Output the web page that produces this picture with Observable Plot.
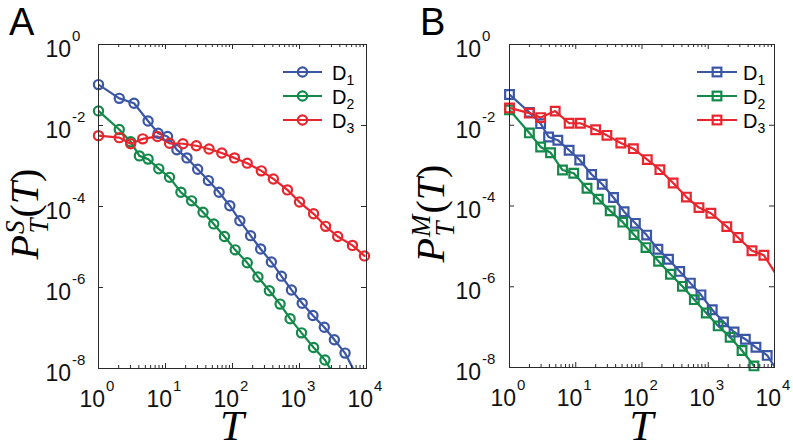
<!DOCTYPE html>
<html><head><meta charset="utf-8">
<script src="https://cdn.jsdelivr.net/npm/d3@7"></script>
<script src="https://cdn.jsdelivr.net/npm/@observablehq/plot@0.6"></script>
<style>
body{margin:0;background:#fff;}
#wrap{position:relative;width:793px;height:442px;overflow:hidden;background:#fff;}
#wrap svg{position:absolute;top:0;overflow:visible;}
</style></head><body><div id="wrap"></div>
<script>
// ---- categories / styling names ----
const seriesNames = ["D1", "D2", "D3"];
const seriesColors = ["#3a56a5", "#13894a", "#e8262d"];
// ---- tick labels (exponents of 10) ----
const xTickExps = [0, 1, 2, 3, 4];
const yTickExps = [0, -2, -4, -6, -8];

// ---- Panel A (P_T^S), values read as log10 ----
const A_D1_logT = [0, 0.31, 0.53, 0.74, 0.89, 1.03, 1.17, 1.32, 1.48, 1.64, 1.80, 1.96, 2.11, 2.27, 2.42, 2.58, 2.73, 2.88, 3.04, 3.20, 3.37, 3.52, 3.68, 3.86];
const A_D1_logP = [-0.99, -1.33, -1.45, -1.89, -2.19, -2.27, -2.60, -2.80, -3.08, -3.36, -3.65, -3.98, -4.35, -4.72, -5.05, -5.37, -5.72, -6.06, -6.39, -6.69, -6.98, -7.29, -7.62, -8.20];
const A_D2_logT = [0, 0.31, 0.48, 0.61, 0.74, 0.90, 1.06, 1.23, 1.39, 1.56, 1.72, 1.88, 2.04, 2.22, 2.38, 2.55, 2.71, 2.86, 3.03, 3.21, 3.38, 3.55];
const A_D2_logP = [-1.64, -2.10, -2.40, -2.75, -2.83, -3.07, -3.28, -3.65, -3.86, -4.14, -4.43, -4.74, -5.07, -5.39, -5.74, -6.08, -6.41, -6.77, -7.12, -7.48, -7.79, -8.25];
const A_D3_logT = [0, 0.31, 0.48, 0.66, 0.88, 1.06, 1.26, 1.46, 1.65, 1.84, 2.03, 2.22, 2.43, 2.61, 2.82, 3.00, 3.21, 3.39, 3.57, 3.79, 3.97];
const A_D3_logP = [-2.25, -2.30, -2.45, -2.33, -2.27, -2.44, -2.45, -2.50, -2.58, -2.68, -2.80, -2.93, -3.12, -3.32, -3.59, -3.89, -4.18, -4.49, -4.74, -4.96, -5.22];

// ---- Panel B (P_T^M), values read as log10 ----
const B_D1_logT = [0, 0.30, 0.47, 0.59, 0.73, 0.90, 1.06, 1.24, 1.40, 1.57, 1.73, 1.90, 2.07, 2.24, 2.40, 2.57, 2.73, 2.89, 3.06, 3.23, 3.39, 3.56, 3.72, 3.89, 4.05];
const B_D1_logP = [-1.24, -1.68, -1.96, -2.29, -2.37, -2.62, -2.86, -3.22, -3.46, -3.79, -4.14, -4.43, -4.72, -5.07, -5.32, -5.62, -5.91, -6.20, -6.57, -6.87, -7.12, -7.30, -7.50, -7.70, -8.10];
const B_D2_logT = [0, 0.30, 0.47, 0.62, 0.80, 0.97, 1.17, 1.34, 1.52, 1.71, 1.88, 2.06, 2.25, 2.43, 2.61, 2.79, 2.97, 3.15, 3.33, 3.51, 3.69];
const B_D2_logP = [-1.62, -2.19, -2.54, -2.68, -3.11, -3.19, -3.56, -3.83, -4.12, -4.40, -4.71, -5.03, -5.37, -5.69, -5.99, -6.32, -6.65, -6.97, -7.25, -7.58, -7.96];
const B_D3_logT = [0, 0.30, 0.47, 0.69, 0.90, 1.07, 1.30, 1.47, 1.68, 1.87, 2.08, 2.27, 2.47, 2.67, 2.86, 3.04, 3.28, 3.45, 3.66, 3.84, 4.03];
const B_D3_logP = [-1.57, -1.70, -1.81, -1.65, -1.95, -1.95, -2.11, -2.25, -2.44, -2.58, -2.85, -3.10, -3.43, -3.78, -4.04, -4.18, -4.51, -4.78, -5.11, -5.22, -5.71];

function rowsOf(name, logT, logP) {
  return logT.map((t, i) => ({series: name, T: Math.pow(10, t), P: Math.pow(10, logP[i])}));
}
const panelAData = [
  ...rowsOf("D1", A_D1_logT, A_D1_logP),
  ...rowsOf("D2", A_D2_logT, A_D2_logP),
  ...rowsOf("D3", A_D3_logT, A_D3_logP)
];
const panelBData = [
  ...rowsOf("D1", B_D1_logT, B_D1_logP),
  ...rowsOf("D2", B_D2_logT, B_D2_logP),
  ...rowsOf("D3", B_D3_logT, B_D3_logP)
];

const SANS = "'Liberation Sans', Arial, Helvetica, sans-serif";
const SERIF = "'Liberation Serif', 'Times New Roman', serif";
const AXIS = "#2a2a2a";
const svgNS = "http://www.w3.org/2000/svg";

function el(tag, attrs, text) {
  const e = document.createElementNS(svgNS, tag);
  for (const k in attrs) e.setAttribute(k, attrs[k]);
  if (text != null) e.textContent = text;
  return e;
}
const expLabel = d => "10^" + Math.round(Math.log10(d));

function buildPanel(cfg) {
  const xMajor = xTickExps.map(e => Math.pow(10, e));
  const xMinor = [];
  for (let i = 0; i < xTickExps.length - 1; i++)
    for (let k = 2; k <= 9; k++) xMinor.push(k * Math.pow(10, xTickExps[i]));
  const yMajor = yTickExps.map(e => Math.pow(10, e));
  const fw = cfg.width - cfg.ml - cfg.mr;
  const fh = cfg.height - cfg.mt - cfg.mb;
  const visible = cfg.data.filter(d => d.P >= 0.95e-8 && d.T <= 1.0001e4);

  const plot = Plot.plot({
    width: cfg.width, height: cfg.height,
    marginLeft: cfg.ml, marginRight: cfg.mr, marginTop: cfg.mt, marginBottom: cfg.mb,
    style: {background: "transparent", fontFamily: SANS, overflow: "visible"},
    x: {type: "log", domain: [1, 1e4], axis: null},
    y: {type: "log", domain: [1e-8, 1], axis: null},
    color: {domain: seriesNames, range: seriesColors},
    marks: [
      Plot.line(cfg.data, {x: "T", y: "P", z: "series", stroke: "series", strokeWidth: 2.2, clip: true}),
      Plot.dot(visible, {x: "T", y: "P", stroke: "series", symbol: cfg.symbol, r: cfg.r, strokeWidth: 2.2, fill: "none"}),
      Plot.tickX(xMajor, {x: d => d, insetTop: fh - 5, stroke: AXIS, strokeWidth: 1}),
      Plot.tickX(xMajor, {x: d => d, insetBottom: fh - 5, stroke: AXIS, strokeWidth: 1}),
      Plot.tickX(xMinor, {x: d => d, insetTop: fh - 3, stroke: AXIS, strokeWidth: 1}),
      Plot.tickX(xMinor, {x: d => d, insetBottom: fh - 3, stroke: AXIS, strokeWidth: 1}),
      Plot.tickY(yMajor, {y: d => d, insetRight: fw - 5, stroke: AXIS, strokeWidth: 1}),
      Plot.tickY(yMajor, {y: d => d, insetLeft: fw - 5, stroke: AXIS, strokeWidth: 1}),
      Plot.frame({stroke: AXIS, strokeWidth: 1}),
      Plot.text(xMajor, {x: d => d, frameAnchor: "bottom", lineAnchor: "top", textAnchor: "start",
        dx: -19, dy: 22, text: expLabel, fontSize: 23, fill: "#111"}),
      Plot.text(yMajor, {y: d => d, frameAnchor: "left", textAnchor: "start",
        dx: cfg.yLabDx, dy: 5, text: expLabel, fontSize: 23, fill: "#111"})
    ]
  });
  plot.style.left = cfg.left + "px";

  // turn "10^n" labels into 10 with a real superscript
  plot.querySelectorAll("text").forEach(t => {
    const s = t.textContent.trim();
    const m = /^10\^(-?\d+)$/.exec(s);
    if (!m) return;
    const e = Number(m[1]);
    while (t.firstChild) t.removeChild(t.firstChild);
    t.appendChild(el("tspan", {}, "10"));
    t.appendChild(el("tspan", {"font-size": 15, dy: -16, dx: 1}, (e < 0 ? "-" : "") + Math.abs(e)));
  });

  // panel letter
  plot.appendChild(el("text", {x: cfg.letterX, y: 35, "text-anchor": "start", "font-family": SANS, "font-size": 38, fill: "#000"}, cfg.letter));

  // x-axis title
  plot.appendChild(el("text", {x: cfg.ml + fw / 2, y: 440, "text-anchor": "middle", "font-family": SERIF,
    "font-style": "italic", "font-size": 43, fill: "#000"}, "T"));

  // y-axis title P_T^X(T)
  const yt = el("text", {transform: `translate(${cfg.yTitleX},${cfg.mt + fh / 2 + 8}) rotate(-90)`, "text-anchor": "middle",
    "font-family": SERIF, "font-size": 40, fill: "#000"});
  yt.appendChild(el("tspan", {"font-style": "italic"}, "P"));
  yt.appendChild(el("tspan", {"font-style": "italic", "font-size": 27, dy: -14, dx: 1}, cfg.sup));
  yt.appendChild(el("tspan", {"font-style": "italic", "font-size": 27, dy: 24, dx: -cfg.supW}, "T"));
  yt.appendChild(el("tspan", {dy: -10, dx: cfg.afterSub}, "("));
  yt.appendChild(el("tspan", {"font-style": "italic"}, "T"));
  yt.appendChild(el("tspan", {}, ")"));
  plot.appendChild(yt);

  // legend
  const lg = el("g", {"text-anchor": "start"});
  seriesNames.forEach((name, i) => {
    const y = cfg.legY + i * 24;
    const c = seriesColors[i];
    lg.appendChild(el("line", {x1: cfg.legX1, x2: cfg.legX2, y1: y, y2: y, stroke: c, "stroke-width": 2.2}));
    const cx = (cfg.legX1 + cfg.legX2) / 2;
    if (cfg.symbol === "circle") {
      lg.appendChild(el("circle", {cx, cy: y, r: cfg.r, fill: "none", stroke: c, "stroke-width": 2.2}));
    } else {
      const s = cfg.r * 1.77;
      lg.appendChild(el("rect", {x: cx - s / 2, y: y - s / 2, width: s, height: s, fill: "none", stroke: c, "stroke-width": 2.2}));
    }
    const t = el("text", {x: cfg.legTextX, y: y + 7.5, "text-anchor": "start", "font-family": SANS, "font-size": 20, fill: "#000"});
    t.appendChild(el("tspan", {}, name.charAt(0)));
    t.appendChild(el("tspan", {"font-size": 14, dy: 5}, name.slice(1)));
    lg.appendChild(t);
  });
  plot.appendChild(lg);
  return plot;
}

const wrap = document.getElementById("wrap");
wrap.appendChild(buildPanel({
  data: panelAData, left: 0, width: 396, height: 442, ml: 98, mr: 30, mt: 44, mb: 74,
  symbol: "circle", r: 4.6, yLabDx: -53, letter: "A", letterX: 9, sup: "S", supW: 13, afterSub: 1,
  yTitleX: 38, legX1: 283, legX2: 322, legTextX: 332, legY: 72
}));
wrap.appendChild(buildPanel({
  data: panelBData, left: 396, width: 397, height: 442, ml: 113, mr: 19, mt: 44, mb: 75,
  symbol: "square", r: 4.9, yLabDx: -54, letter: "B", letterX: 24, sup: "M", supW: 22, afterSub: 8,
  yTitleX: 48, legX1: 301, legX2: 341, legTextX: 347, legY: 72
}));
</script></body></html>
